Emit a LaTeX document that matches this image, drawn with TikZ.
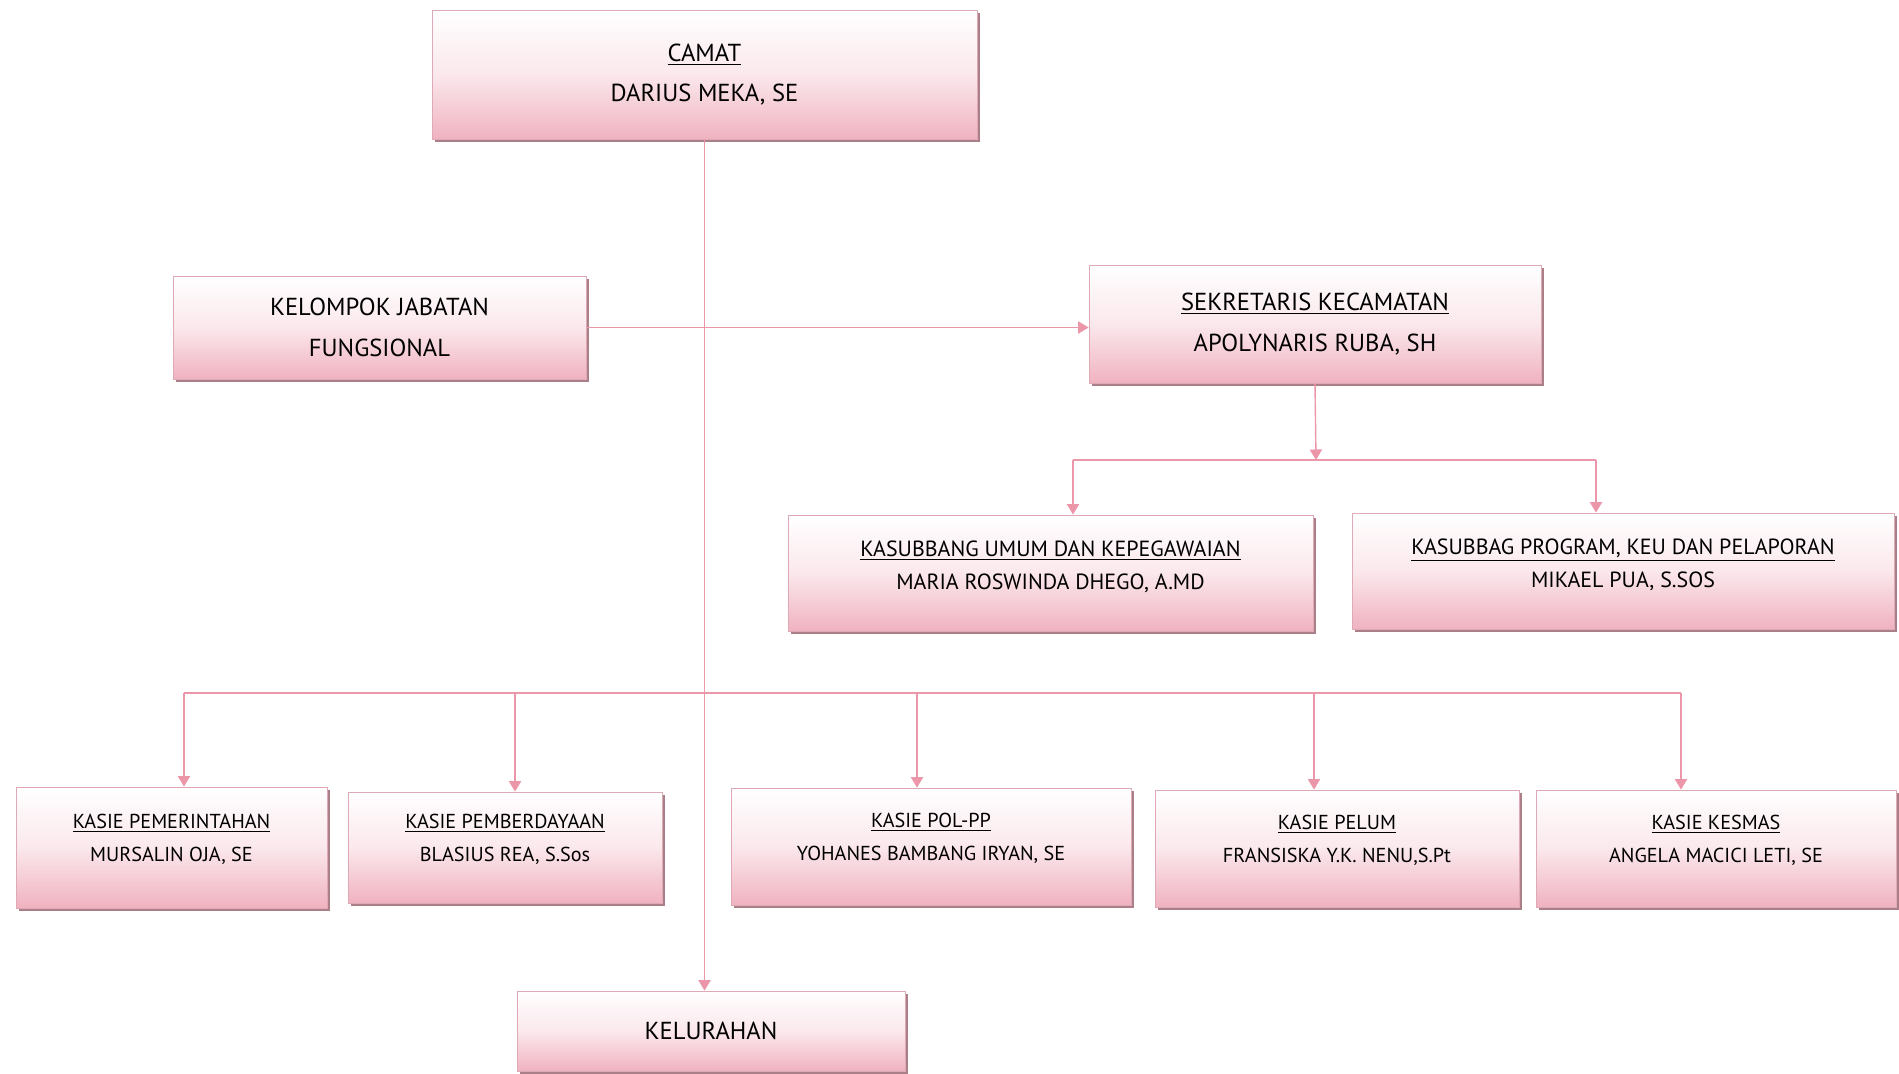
\documentclass[tikz,border=0pt]{standalone}
\usepackage{fontspec}
\setmainfont{PT Sans}
\usetikzlibrary{arrows.meta, shadows}

\definecolor{boxpink}{RGB}{240,178,192}
\definecolor{boxline}{RGB}{222,170,182}
\definecolor{linepink}{RGB}{236,150,170}
\definecolor{shadowc}{RGB}{150,95,105}

\tikzset{
  unit/.style={draw=boxline, line width=0.5pt, top color=white, bottom color=boxpink,
    middle color=white!70!boxpink, align=center, inner sep=0pt,
    drop shadow={shadow xshift=1.6pt, shadow yshift=-1.6pt, fill=shadowc, opacity=0.8},
    font=\fontsize{14}{23}\selectfont},
  subunit/.style={unit, text depth=11pt, font=\fontsize{11.5}{18.5}\selectfont},
  kasub/.style={subunit, text depth=9pt, font=\fontsize{12.5}{19}\selectfont},
  link/.style={draw=linepink, line width=0.8pt},
  arr/.style={link, -{Triangle[width=7pt,length=6pt]}, color=linepink},
}

\begin{document}
\begin{tikzpicture}[x=0.02cm, y=-0.02cm]
  \useasboundingbox (0,0) rectangle (1899,1073);

  \node[unit, minimum width=10.9cm, minimum height=2.58cm] (camat) at (704.5,74.5)
    {\underline{CAMAT}\\DARIUS MEKA, SE};
  \node[unit, minimum width=8.26cm, minimum height=2.06cm] (kjf) at (379.5,327.5)
    {KELOMPOK JABATAN\\FUNGSIONAL};
  \node[unit, minimum width=9.04cm, minimum height=2.36cm] (sek) at (1315,324)
    {\underline{SEKRETARIS KECAMATAN}\\APOLYNARIS RUBA, SH};

  \node[kasub, minimum width=10.5cm, minimum height=2.32cm] (umum) at (1050.5,573)
    {\underline{KASUBBANG UMUM DAN KEPEGAWAIAN}\\MARIA ROSWINDA DHEGO, A.MD};
  \node[kasub, minimum width=10.84cm, minimum height=2.32cm] (prog) at (1623,571)
    {\underline{KASUBBAG PROGRAM, KEU DAN PELAPORAN}\\MIKAEL PUA, S.SOS};

  \node[subunit, minimum width=6.22cm, minimum height=2.42cm] (pem) at (171.5,847.5)
    {\underline{KASIE PEMERINTAHAN}\\MURSALIN OJA, SE};
  \node[subunit, minimum width=6.28cm, minimum height=2.22cm] (pemb) at (505,847.5)
    {\underline{KASIE PEMBERDAYAAN}\\BLASIUS REA, S.Sos};
  \node[subunit, minimum width=8cm, minimum height=2.34cm] (pol) at (931,846.5)
    {\underline{KASIE POL-PP}\\YOHANES BAMBANG IRYAN, SE};
  \node[subunit, minimum width=7.28cm, minimum height=2.34cm] (pelum) at (1337,848.5)
    {\underline{KASIE PELUM}\\FRANSISKA Y.K. NENU,S.Pt};
  \node[subunit, minimum width=7.2cm, minimum height=2.34cm] (kesmas) at (1716,848.5)
    {\underline{KASIE KESMAS}\\ANGELA MACICI LETI, SE};

  \node[unit, minimum width=7.76cm, minimum height=1.6cm] (kel) at (711,1031)
    {KELURAHAN};

  \coordinate (sb) at (1316,460);
  \coordinate (s1) at (1073,460);
  \coordinate (s2) at (1596,460);
  \coordinate (b1) at (184,693);
  \coordinate (b2) at (515,693);
  \coordinate (b3) at (917,693);
  \coordinate (b4) at (1314,693);
  \coordinate (b5) at (1681,693);

  \draw[arr] (camat.south) -- (camat.south |- kel.north);
  \draw[arr] (kjf.east) -- (kjf.east -| sek.west);
  \draw[arr] (sek.south) -- (sb);
  \draw[link] (s1) -- (s2);
  \draw[arr] (s1) -- (s1 |- umum.north);
  \draw[arr] (s2) -- (s2 |- prog.north);
  \draw[link] (b1) -- (b5);
  \foreach \b/\n in {b1/pem, b2/pemb, b3/pol, b4/pelum, b5/kesmas}
    \draw[arr] (\b) -- (\b |- \n.north);
\end{tikzpicture}
\end{document}
